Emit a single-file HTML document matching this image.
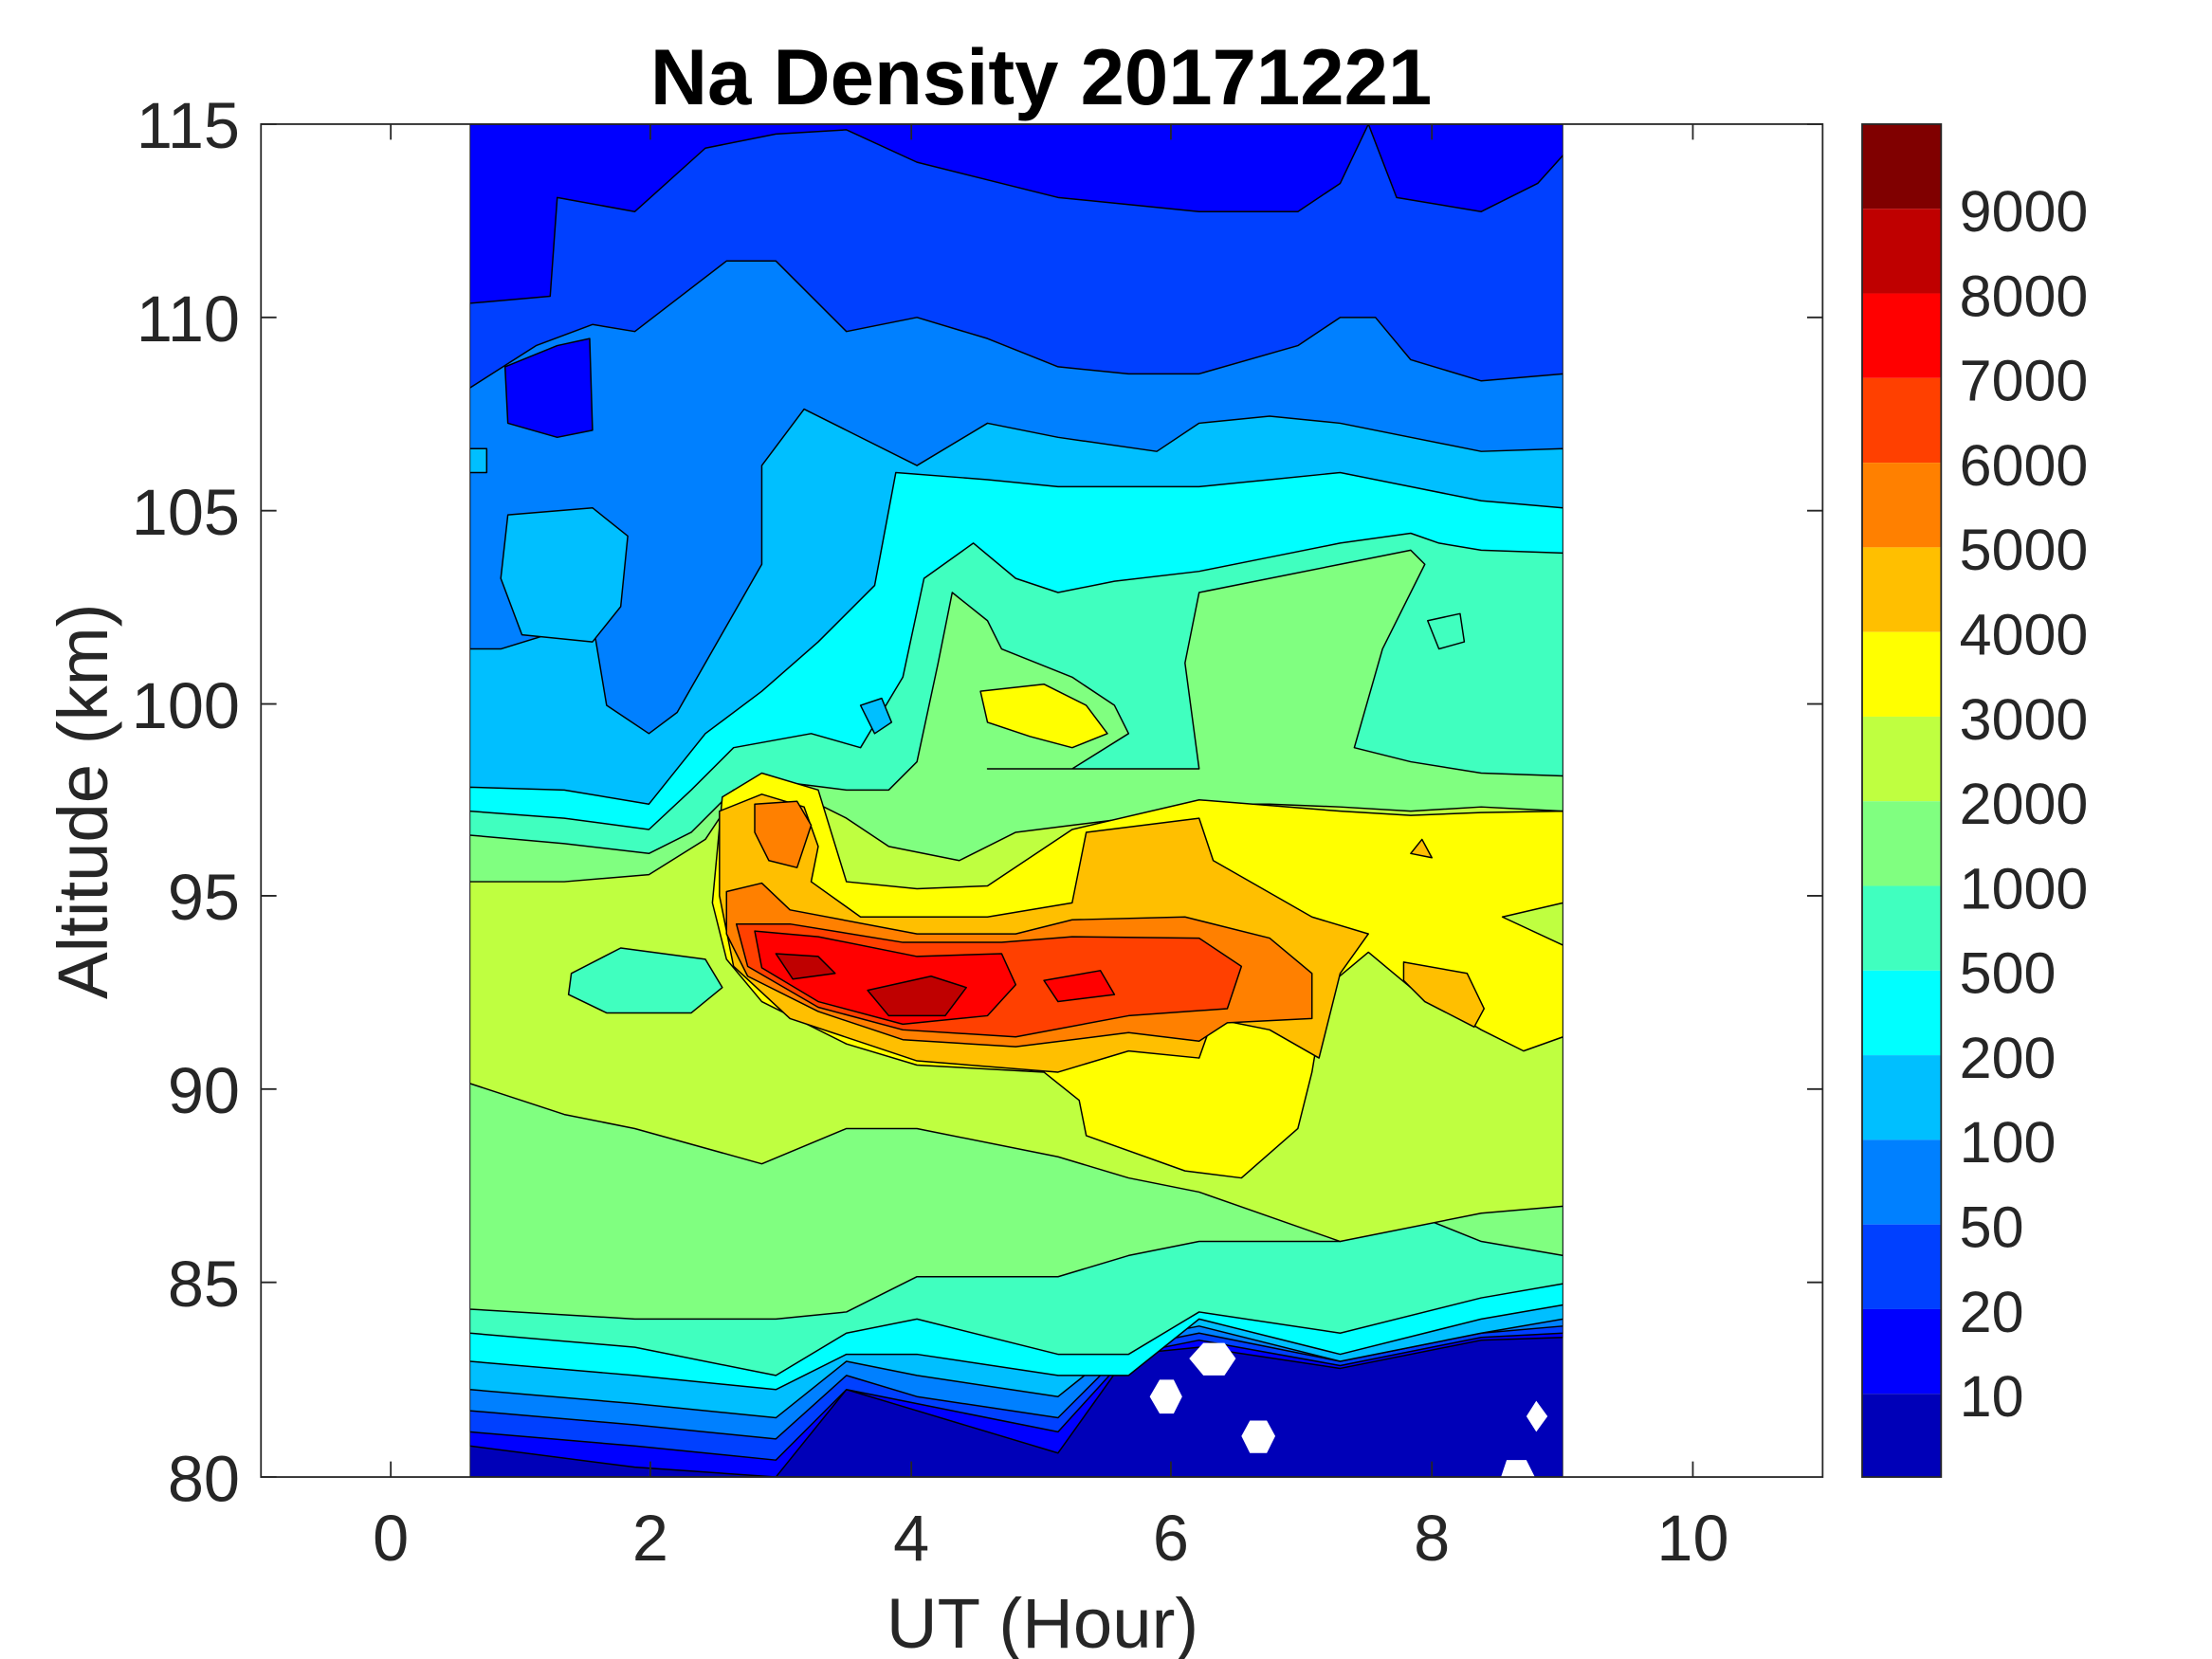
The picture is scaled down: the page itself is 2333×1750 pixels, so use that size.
<!DOCTYPE html>
<html><head><style>html,body{margin:0;padding:0;background:#fff}svg{display:block}</style></head>
<body>
<svg width="2333" height="1750" viewBox="0 0 1568 1176" preserveAspectRatio="none" xmlns="http://www.w3.org/2000/svg" font-family="Liberation Sans, Arial, sans-serif">
<rect width="1568" height="1176" fill="#fff"/>
<clipPath id="c"><rect x="333" y="88" width="775" height="959"/></clipPath>
<g clip-path="url(#c)" stroke="#000" stroke-width="1" stroke-linejoin="round">
<rect x="333" y="88" width="775" height="959" fill="#0000B8"/>
<polygon fill="#0000FF" points="333,88 1108,88 1108,948 1050,950 950,970 850,955 800,960 750,1030 650,1000 600,985 550,1047 450,1040 333,1025"/>
<polygon fill="#0040FF" points="333,215 390,210 395,140 450,150 500,105 550,95 600,92 650,115 750,140 850,150 920,150 950,130 970,88 990,140 1050,150 1090,130 1108,110 1108,945 1050,948 950,968 850,950 800,960 750,1015 650,995 600,985 550,1035 450,1025 333,1015"/>
<polygon fill="#0080FF" points="333,275 380,245 420,230 450,235 515,185 550,185 600,235 650,225 700,240 750,260 800,265 850,265 920,245 950,225 975,225 1000,255 1050,270 1108,265 1108,940 1050,945 950,965 850,945 800,955 750,1005 650,990 600,975 550,1020 450,1010 333,1000"/>
<polygon fill="#00BFFF" points="333,318 345,318 345,335 333,335 333,460 355,460 420,440 430,500 460,520 480,505 500,470 540,400 540,330 570,290 600,305 650,330 700,300 750,310 820,320 850,300 900,295 950,300 1050,320 1108,318 1108,935 1050,945 950,965 850,940 800,950 750,990 650,975 600,965 550,1005 450,995 333,985"/>
<polygon fill="#00FFFF" points="333,558 400,560 460,570 500,520 540,490 580,455 620,415 635,335 700,340 750,345 800,345 850,345 900,340 950,335 1000,345 1050,355 1108,360 1108,925 1050,935 950,960 850,935 800,975 750,975 650,960 600,960 550,985 450,975 333,965"/>
<polygon fill="#40FFBF" points="333,575 400,580 460,588 490,560 520,530 575,520 610,530 640,480 655,410 690,385 720,410 750,420 790,412 850,405 900,395 950,385 1000,378 1020,385 1050,390 1108,392 1108,910 1050,920 950,945 850,930 800,960 750,960 650,935 600,945 550,975 450,955 333,945"/>
<polygon fill="#80FF80" points="333,592 400,598 460,605 490,590 520,560 560,555 600,560 630,560 650,540 665,470 675,420 700,440 710,460 760,480 790,500 800,520 760,545 700,545 850,545 840,470 850,420 900,410 950,400 1000,390 1010,400 980,460 960,530 1000,540 1050,548 1108,550 1108,890 1050,880 1000,860 950,880 850,880 800,890 750,905 650,905 600,930 550,935 450,935 333,928"/>
<polygon fill="#BFFF40" points="333,625 400,625 460,620 500,595 520,565 560,560 600,580 630,600 680,610 720,590 760,585 800,580 850,570 900,570 950,572 1000,575 1050,572 1108,575 1108,855 1050,860 950,880 850,845 800,835 750,820 650,800 600,800 540,825 450,800 400,790 333,768"/>
<polygon fill="#FFFF00" points="512,565 540,548 580,560 600,625 650,630 700,628 760,588 850,567 950,575 1000,578 1050,576 1108,575 1108,640 1065,650 1108,670 1108,735 1080,745 1050,730 1000,700 970,675 940,700 930,760 920,800 880,835 840,830 770,805 765,780 740,760 650,755 600,740 540,710 515,680 505,640"/>
<polygon fill="#FFFF00" points="695,490 740,485 770,500 785,520 760,530 730,522 700,512"/>
<polygon fill="#FFBF00" points="510,575 540,563 570,572 580,600 575,625 610,650 700,650 760,640 770,590 850,580 860,610 930,650 970,662 950,690 935,750 900,730 860,722 850,750 800,745 750,760 650,752 560,722 520,685 510,635"/>
<polygon fill="#FFBF00" points="995,682 1040,690 1052,715 1045,728 1010,710 995,695"/>
<polygon fill="#FFBF00" points="1000,605 1008,595 1015,608"/>
<polygon fill="#FF8000" points="535,570 565,568 575,585 565,615 545,610 535,590"/>
<polygon fill="#FF8000" points="515,632 540,626 560,645 650,662 720,662 760,652 840,650 900,665 930,690 930,722 870,725 850,738 800,732 720,742 640,737 580,717 530,692 515,662"/>
<polygon fill="#FF4000" points="522,655 560,655 640,668 710,668 760,664 850,665 880,685 870,715 800,720 720,735 640,730 580,714 530,685"/>
<polygon fill="#FF0000" points="535,660 580,664 650,678 710,676 720,698 700,720 640,726 580,710 540,686"/>
<polygon fill="#FF0000" points="740,695 780,688 790,705 750,710"/>
<polygon fill="#BF0000" points="550,676 580,678 592,690 562,694"/>
<polygon fill="#BF0000" points="615,702 660,692 685,700 670,720 630,720"/>
<polygon fill="#0000FF" points="358,260 395,245 418,240 420,305 395,310 360,300"/>
<polygon fill="#00BFFF" points="360,365 420,360 445,380 440,430 420,455 370,450 355,410"/>
<polygon fill="#40FFBF" points="405,690 440,672 500,680 512,700 490,718 430,718 403,705"/>
<polygon fill="#00BFFF" points="610,500 625,495 632,512 620,520"/>
<polygon fill="#40FFBF" points="1012,440 1035,435 1038,455 1020,460"/>
</g>
<g fill="#fff" stroke="none">
<polygon points="843,963 853,952 868,952 876,963 868,975 853,975"/>
<polygon points="815,990 822,978 832,978 838,990 832,1002 822,1002"/>
<polygon points="880,1018 886,1007 898,1007 904,1018 898,1030 886,1030"/>
<polygon points="1082,1004 1089,993 1097,1004 1089,1015"/>
<polygon points="1064,1047 1068,1035 1082,1035 1088,1047"/>
</g>
<g stroke="#262626" stroke-width="1.2" fill="none">
<rect x="185" y="88" width="1107" height="959"/>
<path d="M277,1047v-11M461,1047v-11M646,1047v-11M830,1047v-11M1015,1047v-11M1200,1047v-11M277,88v11M461,88v11M646,88v11M830,88v11M1015,88v11M1200,88v11"/>
<path d="M185,88h11M185,225h11M185,362h11M185,499h11M185,635h11M185,772h11M185,909h11M185,1047h11M1292,88h-11M1292,225h-11M1292,362h-11M1292,499h-11M1292,635h-11M1292,772h-11M1292,909h-11"/>
</g>
<g font-size="46" fill="#262626" text-anchor="end">
<text x="170" y="105">115</text><text x="170" y="242">110</text><text x="170" y="379">105</text><text x="170" y="516">100</text><text x="170" y="652">95</text><text x="170" y="789">90</text><text x="170" y="926">85</text><text x="170" y="1064">80</text>
</g>
<g font-size="46" fill="#262626" text-anchor="middle">
<text x="277" y="1106">0</text><text x="461" y="1106">2</text><text x="646" y="1106">4</text><text x="830" y="1106">6</text><text x="1015" y="1106">8</text><text x="1200" y="1106">10</text>
<text x="739" y="1168" font-size="50">UT (Hour)</text>
<text x="738" y="74" font-size="56" font-weight="bold" fill="#000">Na Density 20171221</text>
<text transform="translate(76,568) rotate(-90)" font-size="50">Altitude (km)</text>
</g>
<g>
<rect x="1320" y="88" width="56" height="60" fill="#800000"/>
<rect x="1320" y="148" width="56" height="60" fill="#BF0000"/>
<rect x="1320" y="208" width="56" height="60" fill="#FF0000"/>
<rect x="1320" y="268" width="56" height="60" fill="#FF4000"/>
<rect x="1320" y="328" width="56" height="60" fill="#FF8000"/>
<rect x="1320" y="388" width="56" height="60" fill="#FFBF00"/>
<rect x="1320" y="448" width="56" height="60" fill="#FFFF00"/>
<rect x="1320" y="508" width="56" height="60" fill="#BFFF40"/>
<rect x="1320" y="568" width="56" height="60" fill="#80FF80"/>
<rect x="1320" y="628" width="56" height="60" fill="#40FFBF"/>
<rect x="1320" y="688" width="56" height="60" fill="#00FFFF"/>
<rect x="1320" y="748" width="56" height="60" fill="#00BFFF"/>
<rect x="1320" y="808" width="56" height="60" fill="#0080FF"/>
<rect x="1320" y="868" width="56" height="60" fill="#0040FF"/>
<rect x="1320" y="928" width="56" height="60" fill="#0000FF"/>
<rect x="1320" y="988" width="56" height="59" fill="#0000B8"/>
<rect x="1320" y="88" width="56" height="959" fill="none" stroke="#262626" stroke-width="1.2"/>
</g>
<g font-size="41" fill="#262626">
<text x="1389" y="164">9000</text><text x="1389" y="224">8000</text><text x="1389" y="284">7000</text><text x="1389" y="344">6000</text><text x="1389" y="404">5000</text><text x="1389" y="464">4000</text><text x="1389" y="524">3000</text><text x="1389" y="584">2000</text><text x="1389" y="644">1000</text><text x="1389" y="704">500</text><text x="1389" y="764">200</text><text x="1389" y="824">100</text><text x="1389" y="884">50</text><text x="1389" y="944">20</text><text x="1389" y="1004">10</text>
</g>
</svg>
</body></html>
